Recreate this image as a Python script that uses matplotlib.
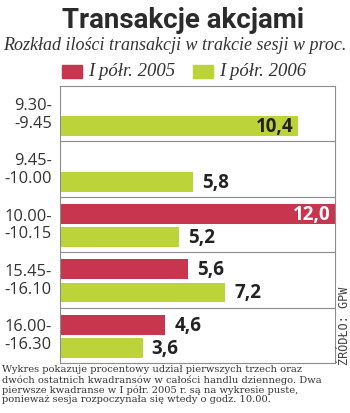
import matplotlib.pyplot as plt

# udział kwadransów w obrocie (proc.)
slots = ['9.30-\n-9.45', '9.45-\n-10.00', '10.00-\n-10.15', '15.45-\n-16.10', '16.00-\n-16.30']
h1_2005 = [None, None, 12.0, 5.6, 4.6]
h1_2006 = [10.4, 5.8, 5.2, 7.2, 3.6]
series_names = ['I półr. 2005', 'I półr. 2006']

red = '#c8354f'
green = '#bcd43a'
grid = '#8c8c8c'

fig = plt.figure(figsize=(3.5, 4.14), dpi=100)
ax = fig.add_axes([60/350, 1-364/414, 275/350, 277/414])

bh = 0.36
for i, name in enumerate(slots):
    for val, off, col in [(h1_2005[i], 0.31, red), (h1_2006[i], 0.727, green)]:
        if val is None:
            continue
        y = i + off
        ax.barh(y, val, height=bh, color=col, left=0)
        txt = f'{val:.1f}'.replace('.', ',')
        if val >= 10:
            ax.text(val - 0.2, y, txt, ha='right', va='center', fontsize=13.5,
                    fontweight='bold', family='Open Sans',
                    color='white' if col == red else '#222222')
        else:
            ax.text(val + 0.4, y, txt, ha='left', va='center', fontsize=13.5,
                    fontweight='bold', family='Open Sans', color='#222222')
    ax.text(-0.35, i + 0.5, name, ha='right', va='center', fontsize=11.8,
            family='Open Sans', color='#333333', linespacing=1.15)

for k in range(1, len(slots)):
    ax.axhline(k, color=grid, lw=0.8)

ax.set_xlim(0, 12.0)
ax.set_ylim(len(slots), 0)
ax.set_xticks([])
ax.set_yticks([])
for s in ax.spines.values():
    s.set_color(grid)
    s.set_linewidth(0.8)

fig.text(183/350, 1-21/414, 'Transakcje akcjami', ha='center', va='center',
         fontsize=20, fontweight='bold', family='Roboto', color='#2b2b2b')
fig.text(0.5, 1-46/414, 'Rozkład ilości transakcji w trakcie sesji w proc.',
         ha='center', va='center', fontsize=13, style='italic',
         family='Liberation Serif', color='#333333')

# legenda
for x0, col, name in [(62, red, series_names[0]), (193, green, series_names[1])]:
    fig.patches.append(plt.Rectangle((x0/350, 1-79/414), 20/350, 13/414,
                                     transform=fig.transFigure, color=col))
    fig.text((x0 + 26)/350, 1-72/414, name, ha='left', va='center',
             fontsize=13.5, style='italic', family='Liberation Serif', color='#333333')

fig.text(344/350, 1-326/414, 'ŹRÓDŁO: GPW', rotation=90, ha='center', va='center',
         fontsize=8.5, family='DejaVu Sans Mono', color='#444444')

note = ('Wykres pokazuje procentowy udział pierwszych trzech oraz\n'
        'dwóch ostatnich kwadransów w całości handlu dziennego. Dwa\n'
        'pierwsze kwadranse w I półr. 2005 r. są na wykresie puste,\n'
        'ponieważ sesja rozpoczynała się wtedy o godz. 10.00.')
fig.text(2/350, 1-365/414, note, ha='left', va='top', fontsize=7.1,
         family='DejaVu Serif', color='#333333', linespacing=1.1)

fig.savefig('out.png', dpi=100)
